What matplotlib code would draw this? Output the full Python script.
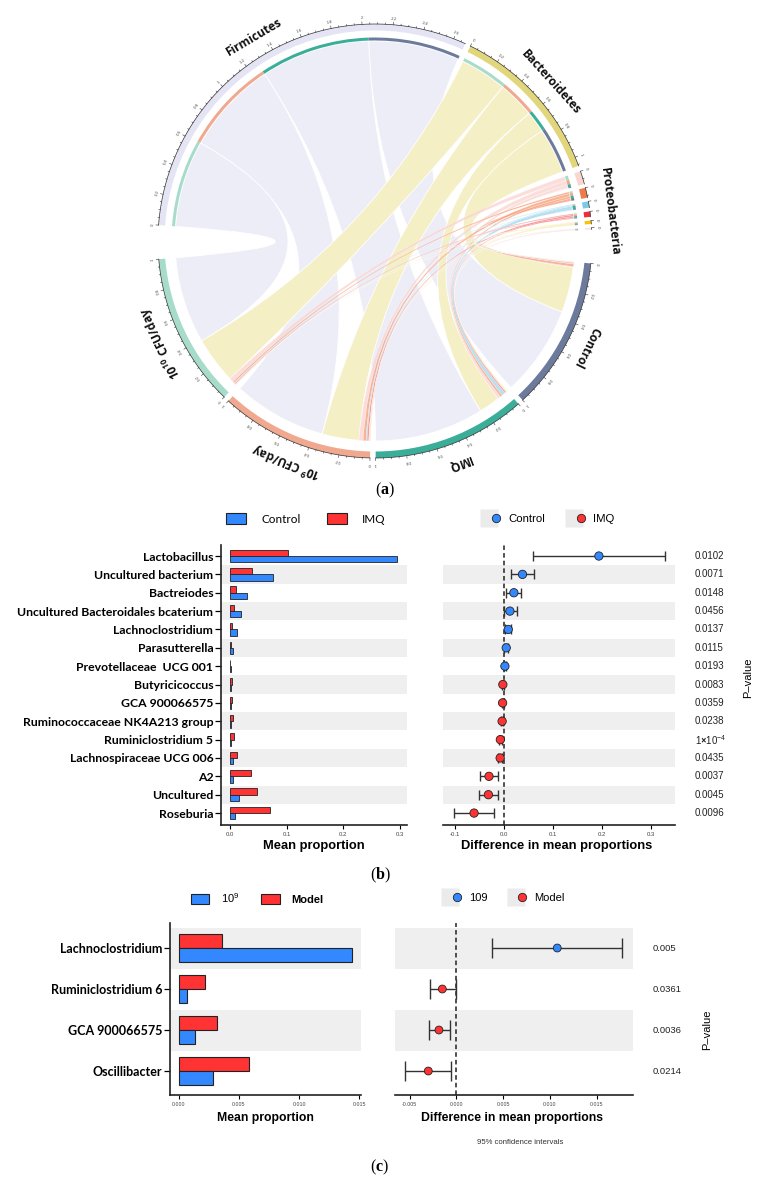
import numpy as np
import matplotlib.pyplot as plt
from matplotlib.patches import Wedge, PathPatch, Patch
from matplotlib.path import Path
from matplotlib.lines import Line2D
from matplotlib.legend_handler import HandlerTuple

plt.rcParams['font.family'] = ['Liberation Sans', 'DejaVu Sans']
plt.rcParams['mathtext.fontset'] = 'custom'
plt.rcParams['mathtext.rm'] = 'Open Sans:bold'
plt.rcParams['mathtext.sf'] = 'Liberation Sans'
plt.rcParams['mathtext.bf'] = 'Liberation Serif:bold'

# ---------------- (a) chord data ----------------
groups = ["Control", "IMQ", "10$^{9}$ CFU/day", "10$^{10}$ CFU/day"]
group_colors = ["#6C7A9C", "#3AAE98", "#F0A88F", "#A8DCCA"]
phyla = ["Firmicutes", "Bacteroidetes", "", "", "", "Proteobacteria", "", ""]
phyla_colors = ["#E4E4F4", "#E2D67C", "#F9D6D0", "#F07A4A", "#7CC8E8", "#E8313A", "#F6C400", "#FBE0E4"]
link_colors = ["#EDEDF8", "#F4EFC4", "#FAD4CF", "#F79B74", "#9ED8EE", "#F47C7C", "#FBE48F", "#F8C9D3"]
# proportion of each phylum in each group (Control, IMQ, 10^9, 10^10)
firmicutes = [0.64, 0.77, 0.66, 0.61]
bacteroidetes = [0.32, 0.15, 0.26, 0.33]
phylum_3 = [0.006, 0.020, 0.030, 0.030]
phylum_4 = [0.018, 0.015, 0.020, 0.012]
phylum_5 = [0.004, 0.025, 0.007, 0.005]
proteobacteria = [0.006, 0.010, 0.012, 0.007]
phylum_7 = [0.004, 0.008, 0.006, 0.004]
phylum_8 = [0.002, 0.002, 0.005, 0.002]
mat = np.array([firmicutes, bacteroidetes, phylum_3, phylum_4, phylum_5,
                proteobacteria, phylum_7, phylum_8])

# ---------------- (b) data ----------------
genus_b = ["Lactobacillus", "Uncultured bacterium", "Bactreiodes",
           "Uncultured Bacteroidales bcaterium", "Lachnoclostridium", "Parasutterella",
           "Prevotellaceae  UCG 001", "Butyricicoccus", "GCA 900066575",
           "Ruminococcaceae NK4A213 group", "Ruminiclostridium 5",
           "Lachnospiraceae UCG 006", "A2", "Uncultured", "Roseburia"]
control_b = [0.295, 0.0756, 0.0297, 0.0198, 0.012, 0.005, 0.002, 0.0015, 0.0015,
             0.002, 0.001, 0.0058, 0.0058, 0.0163, 0.0093]
imq_b = [0.103, 0.039, 0.011, 0.0064, 0.004, 0.001, 0.0008, 0.003, 0.004,
         0.005, 0.0076, 0.0128, 0.037, 0.0477, 0.070]
diff_b = [0.1946, 0.0386, 0.021, 0.0129, 0.0095, 0.0054, 0.0027, -0.0015, -0.002,
          -0.003, -0.0066, -0.007, -0.0298, -0.031, -0.0603]
low_b = [0.061, 0.0142, 0.0054, 0.0014, 0.0035, 0.0015, 0.0008, -0.0035, -0.004,
         -0.005, -0.0095, -0.011, -0.0488, -0.050, -0.101]
high_b = [0.329, 0.063, 0.036, 0.0264, 0.0155, 0.0093, 0.0046, 0.0005, 0.0,
          -0.001, -0.0037, -0.003, -0.0115, -0.011, -0.0197]
pval_b = ["0.0102", "0.0071", "0.0148", "0.0456", "0.0137", "0.0115", "0.0193",
          "0.0083", "0.0359", "0.0238", r"1$\times$10$^{\mathsf{-4}}$", "0.0435",
          "0.0037", "0.0045", "0.0096"]

# ---------------- (c) data ----------------
genus_c = ["Lachnoclostridium", "Ruminiclostridium 6", "GCA 900066575", "Oscillibacter"]
g109_c = [0.01436, 0.00072, 0.00138, 0.00287]
model_c = [0.00356, 0.00218, 0.0032, 0.00586]
diff_c = [0.01079, -0.0015, -0.00186, -0.003]
low_c = [0.00382, -0.00286, -0.00296, -0.00546]
high_c = [0.01775, -0.00007, -0.00071, -0.00057]
pval_c = ["0.005", "0.0361", "0.0036", "0.0214"]

BLUE, RED = "#3388FF", "#FF3333"
W, H = 765, 1190
fig = plt.figure(figsize=(W / 100, H / 100), dpi=100)


def px_axes(x0, y0, x1, y1):
    return fig.add_axes([x0 / W, 1 - y1 / H, (x1 - x0) / W, (y1 - y0) / H])


def ftext(x, y, s, **kw):
    fig.text(x / W, 1 - y / H, s, **kw)


# ================= (a) chord diagram =================
cx, cy = 375, 241
axA = px_axes(0, 0, W, 482)
axA.set_xlim(-cx, W - cx)
axA.set_ylim(cy - 482, cy)
axA.set_aspect("equal")
axA.axis("off")

R_OUT, R_W, R_IN, R_IW, R_LINK = 217, 6.5, 203.5, 3, 200
sizes = list(mat.sum(axis=1)) + list(mat.sum(axis=0))
gaps = [1.5, 1.5, 1, 1, 1, 1, 1, 9, 1.5, 1.5, 1.5, 9]
unit = (360 - sum(gaps)) / sum(sizes)
starts = []
a = 175.8
for s, g in zip(sizes, gaps):
    starts.append(a)
    a -= s * unit + g


def arc(r, a0, a1, n=80):
    t = np.radians(np.linspace(a0, a1, n))
    return np.column_stack([r * np.cos(t), r * np.sin(t)])


def ribbon(a0, a1, b0, b1, color, alpha, lw):
    pa = arc(R_LINK, a0, a1)
    pb = arc(R_LINK, b0, b1)
    verts = list(pa) + [(0, 0), pb[0]] + list(pb[1:]) + [(0, 0), pa[0], pa[0]]
    codes = ([Path.MOVETO] + [Path.LINETO] * (len(pa) - 1) + [Path.CURVE3, Path.CURVE3]
             + [Path.LINETO] * (len(pb) - 1) + [Path.CURVE3, Path.CURVE3, Path.CLOSEPOLY])
    axA.add_patch(PathPatch(Path(verts, codes), facecolor=color, alpha=alpha,
                            edgecolor="white", lw=lw, zorder=1))


nP, nG = len(phyla), len(groups)
# positions along each sector (clockwise)
p_pos = {}
for i in range(nP):
    cur = starts[i]
    for j in reversed(range(nG)):
        w = mat[i, j] * unit
        p_pos[(i, j)] = (cur, cur - w)
        if w > 0:
            axA.add_patch(Wedge((0, 0), R_IN, cur - w, cur, width=R_IW,
                                color=group_colors[j], lw=0, zorder=3))
        cur -= w
g_pos = {}
for j in range(nG):
    cur = starts[nP + j]
    for i in reversed(range(nP)):
        w = mat[i, j] * unit
        g_pos[(i, j)] = (cur, cur - w)
        cur -= w

for i in range(nP):
    for j in range(nG):
        a0, a1 = p_pos[(i, j)]
        b0, b1 = g_pos[(i, j)]
        alpha = 1.0 if i < 2 else 0.75
        ribbon(a0, a1, b0, b1, link_colors[i], alpha, 0.6 if i < 2 else 0.2)

names = phyla + groups
colors = phyla_colors + group_colors
for k, (s, a0) in enumerate(zip(sizes, starts)):
    a1 = a0 - s * unit
    axA.add_patch(Wedge((0, 0), R_OUT, a1, a0, width=R_W, color=colors[k], lw=0, zorder=3))
    edge = arc(R_OUT, a0, a1)
    axA.plot(edge[:, 0], edge[:, 1], color="#333333", lw=0.5, zorder=4)
    for v in np.arange(0, s + 1e-6, 0.05):
        ta = np.radians(a0 - v * unit)
        major = abs(v / 0.2 - round(v / 0.2)) < 1e-6
        rr = R_OUT + (2.6 if major else 1.4)
        axA.plot([R_OUT * np.cos(ta), rr * np.cos(ta)], [R_OUT * np.sin(ta), rr * np.sin(ta)],
                 color="#333333", lw=0.4, zorder=4)
        if major:
            axA.text(221 * np.cos(ta), 221 * np.sin(ta), f"{v:g}", fontsize=3.2,
                     color="#555555", rotation=np.degrees(ta) - 90, rotation_mode="anchor",
                     ha="center", va="bottom")
    if names[k]:
        mid = a0 - s * unit / 2
        rad = np.radians(mid)
        axA.text(237 * np.cos(rad), 237 * np.sin(rad), names[k], fontsize=8.6,
                 family="Open Sans", weight="bold", rotation=mid - 90,
                 rotation_mode="anchor", ha="center", va="center", color="#111111")

# ================= panel helpers =================


def bar_panel(ax, labels, blue, red, ylim, xticks, xlim, bh, lsize, tick_fs, lw):
    n = len(labels)
    y = np.arange(n)
    for i in range(1, n, 2) if n > 4 else range(0, n, 2):
        ax.axhspan(i - 0.5, i + 0.5, color="#EFEFEF", lw=0, zorder=0)
    ax.barh(y - bh / 2, red, height=bh, color=RED, edgecolor="#222222", lw=lw, zorder=2)
    ax.barh(y + bh / 2, blue, height=bh, color=BLUE, edgecolor="#222222", lw=lw, zorder=2)
    ax.set_ylim(*ylim)
    ax.set_xlim(*xlim)
    ax.set_yticks(y)
    ax.set_yticklabels(labels, fontsize=lsize, family="Lato", weight="bold")
    ax.set_xticks(xticks)
    ax.set_xticklabels([f"{t:.1f}" if xlim[1] > 0.1 else f"{t:.3f}" for t in xticks],
                       fontsize=tick_fs, color="#444444")
    ax.tick_params(axis="y", length=4, width=0.9, pad=1.5)
    ax.tick_params(axis="x", length=3, width=0.8, pad=2)
    for sp in ["top", "right"]:
        ax.spines[sp].set_visible(False)
    for sp in ["left", "bottom"]:
        ax.spines[sp].set_linewidth(1.2)
        ax.spines[sp].set_color("#222222")


def diff_panel(ax, diff, low, high, pvals, ylim, xticks, xlim, cap, ms, tick_fs, p_fs, px):
    n = len(diff)
    y = np.arange(n)
    for i in range(1, n, 2) if n > 4 else range(0, n, 2):
        ax.axhspan(i - 0.5, i + 0.5, color="#EFEFEF", lw=0, zorder=0)
    d = np.array(diff)
    ax.axvline(0, color="#222222", lw=1.1, ls=(0, (3, 2)), zorder=1)
    ax.errorbar(d, y, xerr=[d - np.array(low), np.array(high) - d], fmt="none",
                ecolor="#333333", elinewidth=1, capsize=cap, capthick=1, zorder=2)
    cols = [BLUE if v > 0 else RED for v in d]
    ax.scatter(d, y, s=ms, c=cols, edgecolors="#222222", linewidths=0.6, zorder=3)
    ax.set_ylim(*ylim)
    ax.set_xlim(*xlim)
    ax.set_yticks([])
    ax.set_xticks(xticks)
    ax.set_xticklabels([f"{t:.1f}" if xlim[1] > 0.1 else f"{t:.3f}" for t in xticks],
                       fontsize=tick_fs, color="#444444")
    ax.tick_params(axis="x", length=3, width=0.8, pad=2)
    for sp in ["top", "right", "left"]:
        ax.spines[sp].set_visible(False)
    ax.spines["bottom"].set_linewidth(1.2)
    ax.spines["bottom"].set_color("#222222")
    tr = ax.get_yaxis_transform()
    for yi, p in zip(y, pvals):
        ax.text(px, yi, p, transform=tr, fontsize=p_fs, va="center", ha="left", color="#222222")


# ================= (b) =================
axB1 = px_axes(221, 545, 407, 825)
bar_panel(axB1, genus_b, control_b, imq_b, (14.65, -0.6), [0, 0.1, 0.2, 0.3],
          (-0.0159, 0.3124), 0.34, 8.8, 4.3, 0.6)
axB2 = px_axes(443, 545, 675, 825)
diff_panel(axB2, diff_b, low_b, high_b, pval_b, (14.65, -0.6), [-0.1, 0, 0.1, 0.2, 0.3],
           (-0.1237, 0.350), 3.4, 36, 4.3, 7, 1.086)
ftext(314, 846, "Mean proportion", fontsize=9.3, weight="bold", ha="center", va="center")
ftext(557, 846, "Difference in mean proportions", fontsize=9.3, weight="bold",
      ha="center", va="center")
ftext(748, 678, "P–value", fontsize=8, rotation=90, ha="center", va="center")

leg = axB1.legend([Patch(fc=BLUE, ec="#222222", lw=0.8), Patch(fc=RED, ec="#222222", lw=0.8)],
                  ["Control", "IMQ"], ncol=2, frameon=False, loc="center",
                  bbox_to_anchor=(306 / W, 1 - 519 / H), bbox_transform=fig.transFigure,
                  handlelength=1.7, handleheight=1.1, handletextpad=1.3, columnspacing=2.2,
                  prop={"family": "Lato", "size": 8.5})
gray_sq = dict(marker="s", color="none", markerfacecolor="#EBEBEB", markeredgecolor="none",
               markersize=13, ls="none")
h_blue = (Line2D([], [], **gray_sq), Line2D([], [], marker="o", ls="none", mfc=BLUE,
                                              mec="#222222", mew=0.6, markersize=6))
h_red = (Line2D([], [], **gray_sq), Line2D([], [], marker="o", ls="none", mfc=RED,
                                             mec="#222222", mew=0.6, markersize=6))
axB2.legend([h_blue, h_red], ["Control", "IMQ"], ncol=2, frameon=False, loc="center",
            bbox_to_anchor=(550 / W, 1 - 519 / H), bbox_transform=fig.transFigure,
            handler_map={tuple: HandlerTuple(ndivide=None, pad=0)}, handlelength=1.2,
            handletextpad=0.8, columnspacing=2.2, fontsize=8.2)

# ================= (c) =================
axC1 = px_axes(170, 923, 361, 1095)
bar_panel(axC1, genus_c, g109_c, model_c, (3.585, -0.61), [0, 0.005, 0.01, 0.015],
          (-0.00072, 0.01514), 0.35, 9.0, 3.8, 0.8)
axC2 = px_axes(395, 923, 633, 1095)
diff_panel(axC2, diff_c, low_c, high_c, pval_c, (3.585, -0.61),
           [-0.005, 0, 0.005, 0.01, 0.015], (-0.00656, 0.01889), 7, 32, 3.8, 6.8, 1.081)
ftext(265, 1118, "Mean proportion", fontsize=8.8, weight="bold", ha="center", va="center")
ftext(512, 1118, "Difference in mean proportions", fontsize=8.8, weight="bold",
      ha="center", va="center")
ftext(520, 1143, "95% confidence intervals", fontsize=5.6, ha="center", va="center",
      color="#333333")
ftext(707, 1030, "P–value", fontsize=8, rotation=90, ha="center", va="center")

legc = axC1.legend([Patch(fc=BLUE, ec="#222222", lw=0.8), Patch(fc=RED, ec="#222222", lw=0.8)],
                   [r"$\mathsf{10^{9}}$", "Model"], ncol=2, frameon=False, loc="center",
                   bbox_to_anchor=(257 / W, 1 - 898 / H), bbox_transform=fig.transFigure,
                   handlelength=1.7, handleheight=1.1, handletextpad=1.0, columnspacing=2.0,
                   fontsize=8)
legc.get_texts()[1].set_fontweight("bold")
axC2.legend([h_blue, h_red], ["109", "Model"], ncol=2, frameon=False, loc="center",
            bbox_to_anchor=(506 / W, 1 - 898 / H), bbox_transform=fig.transFigure,
            handler_map={tuple: HandlerTuple(ndivide=None, pad=0)}, handlelength=1.2,
            handletextpad=0.8, columnspacing=2.2, fontsize=8)

# captions
for x, y, s in [(385, 490, "a"), (380, 875, "b"), (380, 1167, "c")]:
    ftext(x, y, "($\\mathbf{" + s + "}$)", fontsize=11.5, family="Liberation Serif",
          ha="center", va="center")

fig.savefig("out.png", dpi=100)
